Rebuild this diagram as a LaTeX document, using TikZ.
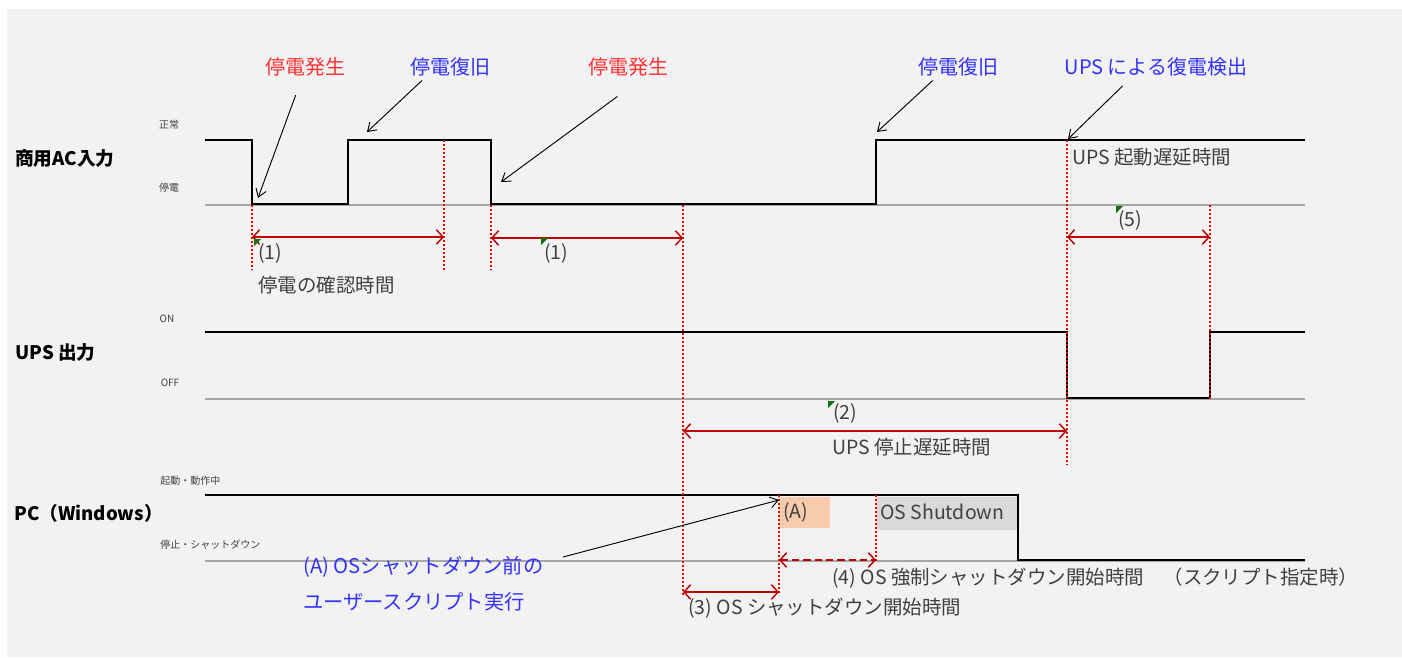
\documentclass[tikz,border=0pt]{standalone}
\usepackage{fontspec}
\setmainfont{Noto Sans CJK JP}
\usetikzlibrary{arrows.meta}
\definecolor{bg}{HTML}{F2F2F2}
\definecolor{evred}{HTML}{FF3333}
\definecolor{evblue}{HTML}{3333FF}
\definecolor{dred}{HTML}{C00000}
\definecolor{guidered}{HTML}{E00000}
\definecolor{lbl}{HTML}{404040}
\definecolor{basegray}{HTML}{A6A6A6}
\definecolor{orangebox}{HTML}{F8CBAD}
\definecolor{graybox}{HTML}{D9D9D9}
\definecolor{markgreen}{HTML}{107010}
\begin{document}
\begin{tikzpicture}[x=0.75pt,y=-0.75pt,
  sig/.style={line width=1.8pt, black, line join=miter},
  basel/.style={line width=1.6pt, basegray},
  guide/.style={guidered, line width=1.2pt, dash pattern=on 1.4pt off 1.6pt},
  span/.style={dred, line width=1.1pt, {Straight Barb[length=5pt,width=11pt]}-{Straight Barb[length=5pt,width=11pt]}},
  dspan/.style={span, dash pattern=on 5.5pt off 3pt},
  callout/.style={black, line width=0.7pt, -{Straight Barb[length=6pt,width=8pt]}},
  title/.style={font=\bfseries\fontsize{14}{16}\selectfont, text=black, anchor=west, inner sep=0},
  small/.style={font=\fontsize{7.5}{9}\selectfont, text=lbl, inner sep=0},
  ev/.style={font=\fontsize{15}{17}\selectfont, inner sep=0},
  note/.style={font=\fontsize{14.6}{17}\selectfont, text=lbl, anchor=west, inner sep=0},
  bnote/.style={font=\fontsize{15.2}{17}\selectfont, text=evblue, anchor=west, inner sep=0},
  gmark/.style={fill=markgreen, draw=none}
]
\useasboundingbox (0,0) rectangle (1402,657);
\fill[white] (0,0) rectangle (1402,657);
\fill[bg] (7,9) rectangle (1402,657);

% boxes on PC row
\fill[orangebox] (779,497) rectangle (830,528);
\fill[graybox] (876,497) rectangle (1018,530);

% baselines
\draw[basel] (205,205) -- (1305,205);
\draw[basel] (205,399) -- (1305,399);
\draw[basel] (205,561) -- (1305,561);

% waveforms
\draw[sig] (205,140) -- (252,140) -- (252,204) -- (348,204) -- (348,140) -- (491,140) -- (491,204) -- (876,204) -- (876,140) -- (1305,140);
\draw[sig] (205,332) -- (1067,332) -- (1067,398) -- (1210,398) -- (1210,332) -- (1305,332);
\draw[sig] (205,495) -- (1018,495) -- (1018,560) -- (1305,560);

% guides
\draw[guide] (252,205) -- (252,270);
\draw[guide] (444,140) -- (444,270);
\draw[guide] (491,205) -- (491,270);
\draw[guide] (683,205) -- (683,595);
\draw[guide] (1067,140) -- (1067,465);
\draw[guide] (1210,205) -- (1210,400);
\draw[guide] (779,495) -- (779,595);
\draw[guide] (876,495) -- (876,561);

% coordinates for spans
\coordinate (s1a) at (252,237); \coordinate (s1b) at (444,237);
\coordinate (s1c) at (491,238); \coordinate (s1d) at (683,238);
\coordinate (s5a) at (1067,237); \coordinate (s5b) at (1210,237);
\coordinate (s2a) at (683,431); \coordinate (s2b) at (1067,431);
\coordinate (s3a) at (683,592); \coordinate (s3b) at (779,592);
\coordinate (s4a) at (779,560); \coordinate (s4b) at (876,560);
\draw[span] (s1a) -- (s1b);
\draw[span] (s1c) -- (s1d);
\draw[span] (s5a) -- (s5b);
\draw[span] (s2a) -- (s2b);
\draw[span] (s3a) -- (s3b);
\draw[dspan] (s4a) -- (s4b);

% green comment markers
\fill[gmark] (254,239) -- (261,239) -- (254,246) -- cycle;
\fill[gmark] (541,238) -- (548,238) -- (541,245) -- cycle;
\fill[gmark] (1116,206) -- (1123,206) -- (1116,213) -- cycle;
\fill[gmark] (828,401) -- (835,401) -- (828,408) -- cycle;

% titles
\node[title] (t1) at (15,158) {商用AC入力};
\node[title] (t2) at (15,352) {UPS 出力};
\node[title] (t3) at (14,513) {PC（Windows）};

% level labels
\node[small] (l1) at (169,125) {正常};
\node[small] (l2) at (169,188) {停電};
\node[small] (l3) at (167,319) {ON};
\node[small] (l4) at (170,383) {OFF};
\node[small, anchor=west] (l5) at (160,481) {起動・動作中};
\node[small, anchor=west] (l6) at (160,545) {停止・シャットダウン};

% event labels
\node[ev, text=evred] (e1) at (305,67) {停電発生};
\node[ev, text=evblue] (e2) at (450,67) {停電復旧};
\node[ev, text=evred] (e3) at (628,67) {停電発生};
\node[ev, text=evblue] (e4) at (958,67) {停電復旧};
\node[ev, text=evblue] (e5) at (1156,67) {UPS による復電検出};

% callouts
\coordinate (c1) at (258,198); \coordinate (c2) at (367,132);
\coordinate (c3) at (501,182); \coordinate (c4) at (877,132);
\coordinate (c5) at (1068,139);
\draw[callout] ([xshift=-7pt,yshift=-14pt]e1.south) -- (c1);
\draw[callout] ([xshift=-21pt,yshift=-3pt]e2.south) -- (c2);
\draw[callout] ([xshift=-8pt,yshift=-15pt]e3.south) -- (c3);
\draw[callout] ([xshift=-19pt,yshift=-3pt]e4.south) -- (c4);
\draw[callout] ([xshift=-25pt,yshift=-7pt]e5.south) -- (c5);

% notes
\node[note] (n1) at (258,253) {(1)};
\node[note] (n1b) at (544,253) {(1)};
\node[note] (n1t) at (258,285) {停電の確認時間};
\node[note] (n5) at (1118,220) {(5)};
\node[note] (n5t) at (1072,157) {UPS 起動遅延時間};
\node[note] (n2) at (833,413) {(2)};
\node[note] (n2t) at (832,447) {UPS 停止遅延時間};
\node[note] (na) at (783,512) {(A)};
\node[note] (nos) at (880,512) {OS Shutdown};
\node[note] (n3) at (688,608) {(3) OS シャットダウン開始時間};
\node[note] (n4) at (832,578) {(4) OS 強制シャットダウン開始時間　（スクリプト指定時）};

% blue note with arrow
\node[bnote] (ba) at (303,567) {(A) OSシャットダウン前の};
\node[bnote] (bb) at (303,602) {ユーザースクリプト実行};
\coordinate (ca) at (779,500);
\coordinate (cb) at (563,557);
\draw[callout] (cb) -- (ca);
\end{tikzpicture}
\end{document}
